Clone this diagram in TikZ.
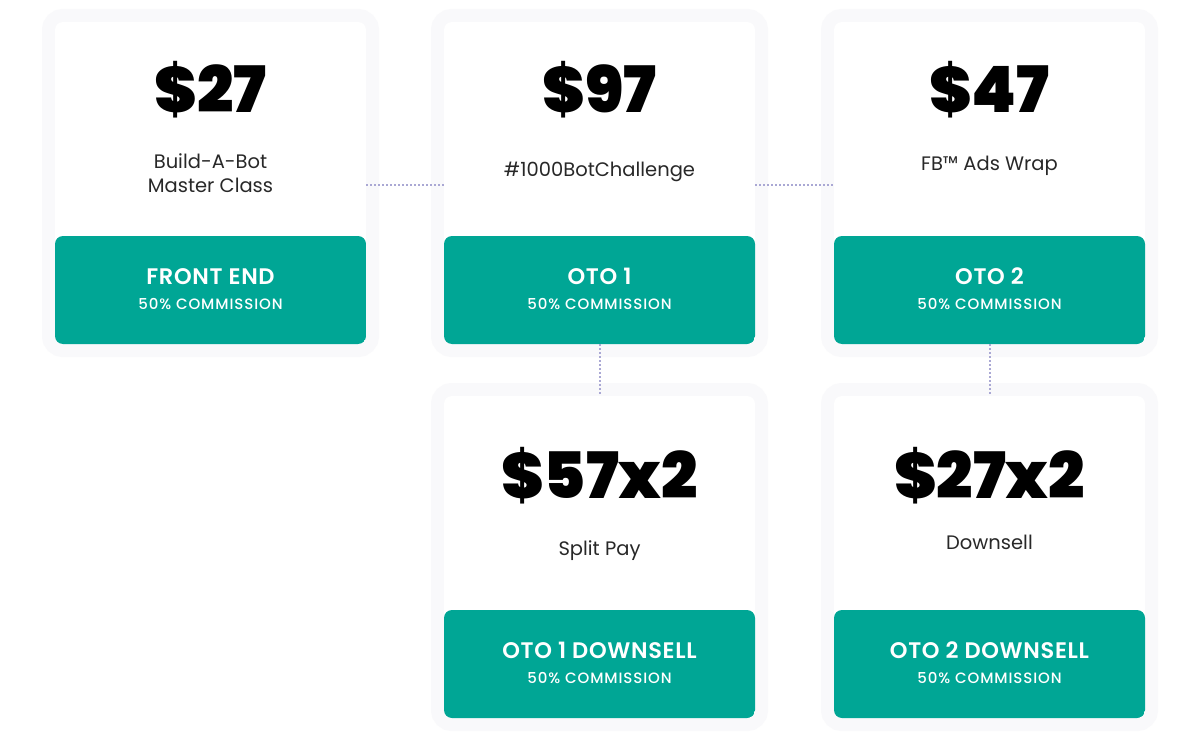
\documentclass[tikz,border=0pt]{standalone}
\usepackage{fontspec}
\setmainfont{Poppins}
\newfontfamily\pricefont{Poppins Black}
\newfontfamily\stagefont{Poppins SemiBold}[LetterSpace=3]
\newfontfamily\comfont{Poppins Medium}[LetterSpace=6]
\usetikzlibrary{positioning}

\definecolor{offergreen}{RGB}{0,166,149}
\definecolor{cardhalo}{RGB}{249,249,251}
\definecolor{linkdot}{RGB}{170,168,212}
\definecolor{desctext}{RGB}{40,40,40}

\tikzset{
	offer/.style={rectangle, rounded corners=8pt, fill=white, inner sep=0pt,
		minimum width=311pt, minimum height=322pt,
		preaction={draw=cardhalo, line width=26pt},
		path picture={\fill[offergreen] ([yshift=108pt]path picture bounding box.south west) rectangle (path picture bounding box.south east);}},
	price/.style={anchor=base, inner sep=0pt, font=\pricefont\fontsize{64}{64}\selectfont},
	desc/.style={anchor=base, inner sep=0pt, align=center, text=desctext, font=\fontsize{19.5}{24}\selectfont},
	stage/.style={anchor=base, inner sep=0pt, text=white, font=\stagefont\fontsize{22.5}{26}\selectfont},
	commission/.style={anchor=base, inner sep=0pt, text=white, font=\comfont\fontsize{15}{18}\selectfont},
	link/.style={draw=linkdot, line width=2pt, dash pattern=on 1.6pt off 2.4pt}
}

\begin{document}
\begin{tikzpicture}[x=1pt, y=-1pt]
		\useasboundingbox[fill=white] (0,0) rectangle (1200,741);
		% cards
		\node[offer] (fe) at (210.5,183) {};
		\node[offer] (oto1) at (599.5,183) {};
		\node[offer] (oto2) at (989.5,183) {};
		\node[offer] (ds1) at (599.5,557) {};
		\node[offer] (ds2) at (989.5,557) {};
		% front end
		\node[price] (fe price) at (210.5,113) {\$27};
		\node[desc] (fe desc) at (210.5,193) {Build-A-Bot\\Master Class};
		\node[stage] (fe stage) at (210.5,284) {FRONT END};
		\node[commission] (fe com) at (210.5,309) {50\% COMMISSION};
		% oto 1
		\node[price] (oto1 price) at (599.5,113) {\$97};
		\node[desc] (oto1 desc) at (599.5,177) {\#1000BotChallenge};
		\node[stage] (oto1 stage) at (599.5,284) {OTO 1};
		\node[commission] (oto1 com) at (599.5,309) {50\% COMMISSION};
		% oto 2
		\node[price] (oto2 price) at (989.5,113) {\$47};
		\node[desc] (oto2 desc) at (989.5,171) {FB™ Ads Wrap};
		\node[stage] (oto2 stage) at (989.5,284) {OTO 2};
		\node[commission] (oto2 com) at (989.5,309) {50\% COMMISSION};
		% oto 1 downsell
		\node[price] (ds1 price) at (599.5,498) {\$57x2};
		\node[desc] (ds1 desc) at (599.5,555) {Split Pay};
		\node[stage] (ds1 stage) at (599.5,658) {OTO 1 DOWNSELL};
		\node[commission] (ds1 com) at (599.5,683) {50\% COMMISSION};
		% oto 2 downsell
		\node[price] (ds2 price) at (989.5,498) {\$27x2};
		\node[desc] (ds2 desc) at (989.5,549) {Downsell};
		\node[stage] (ds2 stage) at (989.5,658) {OTO 2 DOWNSELL};
		\node[commission] (ds2 com) at (989.5,683) {50\% COMMISSION};
		% dotted links
		\draw[link] ([yshift=-2pt]fe.east) -- ([yshift=-2pt]oto1.west);
		\draw[link] ([yshift=-2pt]oto1.east) -- ([yshift=-2pt]oto2.west);
		\draw[link] (oto1.south) -- (ds1.north);
		\draw[link] (oto2.south) -- (ds2.north);
	\end{tikzpicture}
\end{document}
